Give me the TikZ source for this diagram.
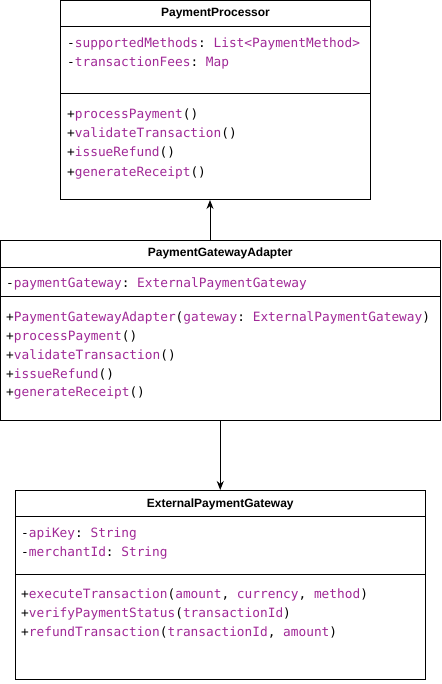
\documentclass[tikz,border=0pt]{standalone}
\usepackage{fontspec}
\setmainfont{Liberation Sans}
\setmonofont{DejaVu Sans Mono}
\usetikzlibrary{arrows.meta}
\definecolor{mpurple}{RGB}{160,40,150}
\newcommand{\pu}[1]{\textcolor{mpurple}{#1}}

\begin{document}
\begin{tikzpicture}[x=1pt,y=-1pt,
  cls/.style={draw,line width=1pt,inner sep=0pt,outer sep=0pt},
  hdr/.style={font=\fontsize{12}{14}\selectfont\bfseries},
  mem/.style={anchor=base west,inner sep=0pt,font=\fontsize{12.8}{15}\selectfont\ttfamily},
  arr/.style={line width=1pt,-{Stealth[length=9pt,width=7pt]}}]
  \useasboundingbox (0,0) rectangle (441,684);

  % class boxes
  \node[cls,minimum width=309.5pt,minimum height=199pt] (proc) at (215.5,100.5) {};
  \node[cls,minimum width=439.5pt,minimum height=179.5pt] (adapter) at (220.25,330.25) {};
  \node[cls,minimum width=409.5pt,minimum height=189pt] (ext) at (220.25,584.5) {};

  \draw[line width=1pt] (60.75,27) -- (370.25,27);
  \draw[line width=1pt] (60.75,94) -- (370.25,94);
  \draw[line width=1pt] (0.5,267) -- (440,267);
  \draw[line width=1pt] (0.5,296) -- (440,296);
  \draw[line width=1pt] (15.5,516) -- (425,516);
  \draw[line width=1pt] (15.5,574) -- (425,574);

  % PaymentProcessor
  \node[hdr] (proc-name) at (215.5,14) {PaymentProcessor};
  \node[mem] (p1) at (67,47.5) {-\pu{supportedMethods}: \pu{List<PaymentMethod>}};
  \node[mem] (p2) at (67,66.5) {-\pu{transactionFees}: \pu{Map}};
  \node[mem] (p3) at (67,118.5) {+\pu{processPayment}()};
  \node[mem] (p4) at (67,137.7) {+\pu{validateTransaction}()};
  \node[mem] (p5) at (67,157) {+\pu{issueRefund}()};
  \node[mem] (p6) at (67,176.3) {+\pu{generateReceipt}()};

  % PaymentGatewayAdapter
  \node[hdr] (adapter-name) at (220.25,253) {PaymentGatewayAdapter};
  \node[mem] (a1) at (6,287.5) {-\pu{paymentGateway}: \pu{ExternalPaymentGateway}};
  \node[mem] (a2) at (6,321.5) {+\pu{PaymentGatewayAdapter}(\pu{gateway}: \pu{ExternalPaymentGateway})};
  \node[mem] (a3) at (6,340.5) {+\pu{processPayment}()};
  \node[mem] (a4) at (6,359.2) {+\pu{validateTransaction}()};
  \node[mem] (a5) at (6,378) {+\pu{issueRefund}()};
  \node[mem] (a6) at (6,396.8) {+\pu{generateReceipt}()};

  % ExternalPaymentGateway
  \node[hdr] (ext-name) at (220.25,504) {ExternalPaymentGateway};
  \node[mem] (e1) at (21,537.5) {-\pu{apiKey}: \pu{String}};
  \node[mem] (e2) at (21,556.5) {-\pu{merchantId}: \pu{String}};
  \node[mem] (e3) at (21,598.5) {+\pu{executeTransaction}(\pu{amount}, \pu{currency}, \pu{method})};
  \node[mem] (e4) at (21,617.5) {+\pu{verifyPaymentStatus}(\pu{transactionId})};
  \node[mem] (e5) at (21,636.5) {+\pu{refundTransaction}(\pu{transactionId}, \pu{amount})};

  % connectors
  \draw[arr] ([xshift=-10.25pt]adapter.north) -- ([xshift=-5.5pt]proc.south);
  \draw[arr] (adapter.south) -- (ext.north);
\end{tikzpicture}
\end{document}
